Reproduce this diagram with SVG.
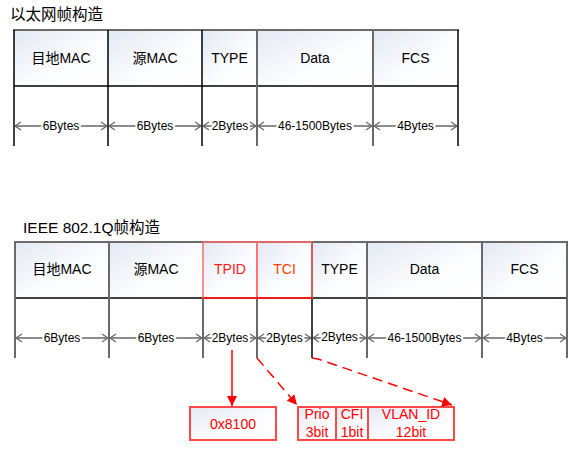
<svg xmlns="http://www.w3.org/2000/svg" width="569" height="451" viewBox="0 0 569 451">
<defs>
<linearGradient id="g" x1="0" y1="0" x2="1" y2="1">
<stop offset="0" stop-color="#e4e8f3"/>
<stop offset="0.55" stop-color="#fbfcfe"/>
<stop offset="1" stop-color="#ffffff"/>
</linearGradient>
<marker id="ah" viewBox="0 0 10 10" refX="10" refY="5" markerWidth="10" markerHeight="10" markerUnits="userSpaceOnUse" orient="auto">
<path d="M0,0 L10,5 L0,10 z" fill="#ff0000"/>
</marker>
<marker id="dimL" viewBox="0 0 10 10" refX="0" refY="5" markerWidth="10" markerHeight="10" markerUnits="userSpaceOnUse" orient="auto">
<path d="M6,1 L0,5 L6,9" fill="none" stroke="#666" stroke-width="1.2"/>
</marker>
<marker id="dimR" viewBox="0 0 10 10" refX="10" refY="5" markerWidth="10" markerHeight="10" markerUnits="userSpaceOnUse" orient="auto">
<path d="M4,1 L10,5 L4,9" fill="none" stroke="#666" stroke-width="1.2"/>
</marker>
</defs>
<style>
text{font-family:"Liberation Sans","Noto Sans CJK SC",sans-serif;}
.title{font-size:15.5px;fill:#000;}
.hd{font-size:14px;fill:#000;text-anchor:middle;dominant-baseline:central;}
.dim{font-size:12px;fill:#000;text-anchor:middle;dominant-baseline:central;stroke:#fff;stroke-width:4px;paint-order:stroke;}
.cell{fill:url(#g);stroke:none;}
.dline{stroke:#666;stroke-width:1.5;marker-start:url(#dimL);marker-end:url(#dimR);}
.vg{stroke:#6a6a6a;stroke-width:2;}
.vb{stroke:#000;stroke-width:1.5;}
.rbox{fill:url(#g);stroke:#ff4848;stroke-width:2;}
.rt{font-size:14px;fill:#ff0000;text-anchor:middle;dominant-baseline:central;}
.rt2{font-size:14px;fill:#ff0000;text-anchor:middle;}
.conn{stroke:#ff0000;stroke-width:1.5;fill:none;marker-end:url(#ah);}
</style>

<text class="title" x="10" y="20">以太网帧构造</text>
<text class="title" x="23" y="233">IEEE 802.1Q帧构造</text>

<!-- Ethernet frame -->
<g id="eth-dst">
<rect class="cell" x="14" y="30" width="94" height="56"/>
<text class="hd" x="61" y="58">目地MAC</text>
<line class="dline" x1="15" y1="126" x2="107" y2="126"/>
<text class="dim" x="61" y="126">6Bytes</text>
</g>
<g id="eth-src">
<rect class="cell" x="108" y="30" width="94" height="56"/>
<text class="hd" x="155" y="58">源MAC</text>
<line class="dline" x1="109" y1="126" x2="201" y2="126"/>
<text class="dim" x="155" y="126">6Bytes</text>
</g>
<g id="eth-type">
<rect class="cell" x="202" y="30" width="55" height="56"/>
<text class="hd" x="229.5" y="58">TYPE</text>
<line class="dline" x1="203" y1="126" x2="256" y2="126"/>
<text class="dim" x="230" y="126">2Bytes</text>
</g>
<g id="eth-data">
<rect class="cell" x="257" y="30" width="116" height="56"/>
<text class="hd" x="315" y="58">Data</text>
<line class="dline" x1="258" y1="126" x2="372" y2="126"/>
<text class="dim" x="315" y="126">46-1500Bytes</text>
</g>
<g id="eth-fcs">
<rect class="cell" x="373" y="30" width="85" height="56"/>
<text class="hd" x="415.5" y="58">FCS</text>
<line class="dline" x1="374" y1="126" x2="457" y2="126"/>
<text class="dim" x="415.5" y="126">4Bytes</text>
</g>
<g id="eth-grid">
<line x1="13" y1="30" x2="459" y2="30" stroke="#6a6a6a" stroke-width="2"/>
<line x1="14" y1="86" x2="458" y2="86" stroke="#000" stroke-width="1.5"/>
<line class="vb" x1="14" y1="30" x2="14" y2="146"/>
<line class="vb" x1="108" y1="30" x2="108" y2="146"/>
<line class="vb" x1="202" y1="30" x2="202" y2="146"/>
<line class="vg" x1="257" y1="30" x2="257" y2="146"/>
<line class="vg" x1="373" y1="30" x2="373" y2="146"/>
<line class="vb" x1="458" y1="30" x2="458" y2="146"/>
</g>

<!-- 802.1Q frame -->
<g id="q-dst">
<rect class="cell" x="15" y="242" width="94" height="56"/>
<text class="hd" x="62" y="269">目地MAC</text>
<line class="dline" x1="16" y1="338" x2="108" y2="338"/>
<text class="dim" x="62" y="338">6Bytes</text>
</g>
<g id="q-src">
<rect class="cell" x="109" y="242" width="94" height="56"/>
<text class="hd" x="156" y="269">源MAC</text>
<line class="dline" x1="110" y1="338" x2="202" y2="338"/>
<text class="dim" x="156" y="338">6Bytes</text>
</g>
<g id="q-tpid">
<rect class="cell" x="203" y="242" width="54" height="56"/>
<text class="hd" x="230" y="269" style="fill:#ff1a1a">TPID</text>
<line class="dline" x1="204" y1="338" x2="256" y2="338"/>
<text class="dim" x="230" y="338">2Bytes</text>
</g>
<g id="q-tci">
<rect class="cell" x="257" y="242" width="55" height="56"/>
<text class="hd" x="284.5" y="269" style="fill:#ff4000">TCI</text>
<line class="dline" x1="258" y1="338" x2="311" y2="338"/>
<text class="dim" x="284.5" y="338">2Bytes</text>
</g>
<g id="q-type">
<rect class="cell" x="312" y="242" width="55" height="56"/>
<text class="hd" x="339.5" y="269">TYPE</text>
<line class="dline" x1="313" y1="338" x2="366" y2="338"/>
<text class="dim" x="339.5" y="337">2Bytes</text>
</g>
<g id="q-data">
<rect class="cell" x="367" y="242" width="115" height="56"/>
<text class="hd" x="424.5" y="269">Data</text>
<line class="dline" x1="368" y1="338" x2="481" y2="338"/>
<text class="dim" x="424.5" y="338">46-1500Bytes</text>
</g>
<g id="q-fcs">
<rect class="cell" x="482" y="242" width="85" height="56"/>
<text class="hd" x="524.5" y="269">FCS</text>
<line class="dline" x1="483" y1="338" x2="566" y2="338"/>
<text class="dim" x="524.5" y="338">4Bytes</text>
</g>
<g id="q-grid">
<line x1="14" y1="242" x2="568" y2="242" stroke="#6a6a6a" stroke-width="2"/>
<line x1="15" y1="298" x2="567" y2="298" stroke="#000" stroke-width="1.5"/>
<line class="vg" x1="15" y1="242" x2="15" y2="358"/>
<line class="vg" x1="109" y1="242" x2="109" y2="358"/>
<line class="vg" x1="203" y1="298" x2="203" y2="358"/>
<line class="vg" x1="257" y1="298" x2="257" y2="358"/>
<line class="vb" x1="312" y1="242" x2="312" y2="358"/>
<line class="vg" x1="367" y1="242" x2="367" y2="358"/>
<line class="vg" x1="482" y1="242" x2="482" y2="358"/>
<line class="vg" x1="567" y1="242" x2="567" y2="358"/>
<rect x="203" y="242" width="54" height="56" fill="none" stroke="#ff6b6b" stroke-width="1.5"/>
<rect x="257" y="242" width="55" height="56" fill="none" stroke="#ff6b6b" stroke-width="1.5"/>
<line x1="203" y1="298" x2="312" y2="298" stroke="#ff0000" stroke-width="1.5"/>
</g>

<!-- detail boxes -->
<g id="tpid-value">
<rect class="rbox" x="190" y="407" width="86" height="33"/>
<text class="rt" x="233" y="424">0x8100</text>
</g>
<g id="tci-prio">
<rect class="rbox" x="298" y="407" width="38" height="33"/>
<text class="rt2" x="317" y="419">Prio</text>
<text class="rt2" x="317" y="437">3bit</text>
</g>
<g id="tci-cfi">
<rect class="rbox" x="336" y="407" width="32" height="33"/>
<text class="rt2" x="352" y="419">CFI</text>
<text class="rt2" x="352" y="437">1bit</text>
</g>
<g id="tci-vlan">
<rect class="rbox" x="368" y="407" width="86" height="33"/>
<text class="rt2" x="411" y="419">VLAN_ID</text>
<text class="rt2" x="411" y="437">12bit</text>
</g>

<g id="connectors">
<line class="conn" x1="232" y1="350" x2="232" y2="406"/>
<line class="conn" x1="257" y1="358" x2="297" y2="405" stroke-dasharray="10,6"/>
<polyline class="conn" points="312,358 318,359 452,405" stroke-dasharray="10,6"/>
</g>
</svg>
